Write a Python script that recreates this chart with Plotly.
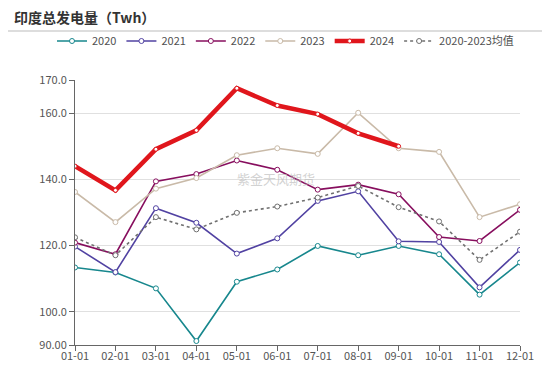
import plotly.graph_objects as go

months = ["01-01", "02-01", "03-01", "04-01", "05-01", "06-01",
          "07-01", "08-01", "09-01", "10-01", "11-01", "12-01"]

y2020 = [113.4, 111.9, 107.1, 91.2, 109.1, 112.8, 119.9, 117.1, 119.9, 117.4, 105.2, 114.9]
y2021 = [119.7, 112.0, 131.3, 126.9, 117.6, 122.2, 133.5, 136.4, 121.3, 121.1, 107.4, 118.7]
y2022 = [120.9, 117.4, 139.4, 141.6, 145.7, 142.9, 136.9, 138.4, 135.5, 122.6, 121.4, 130.8]
y2023 = [136.2, 127.1, 137.2, 140.4, 147.3, 149.4, 147.7, 160.1, 149.4, 148.3, 128.6, 132.5]
y2024 = [144.0, 136.7, 149.1, 154.8, 167.5, 162.3, 159.7, 153.9, 150.0]
yavg = [122.5, 117.1, 128.6, 124.9, 129.9, 131.8, 134.5, 138.0, 131.6, 127.3, 115.7, 124.2]

ytickvals = [90, 100, 120, 140, 160, 170]
yticktext = ["90.00", "100.0", "120.0", "140.0", "160.0", "170.0"]

series = [
    ("2020", y2020, "#17878D", 1.6, "solid"),
    ("2021", y2021, "#5142A2", 1.6, "solid"),
    ("2022", y2022, "#870E5E", 1.6, "solid"),
    ("2023", y2023, "#C9BAA8", 1.6, "solid"),
    ("2024", y2024, "#E0161C", 4.5, "solid"),
    ("2020-2023均值", yavg, "#707070", 1.6, "dot"),
]

FONT = "Noto Sans CJK SC"

# page body adds an 8px offset; figure is sized to fill the remaining window
W, H = 542, 357
L, R, T, B = 67, 30, 72, 20
PW, PH = W - L - R, H - T - B


def px(x):  # screen x -> paper
    return (x - 8 - L) / PW


def py(y):  # screen y -> paper
    return (H - B - (y - 8)) / PH


fig = go.Figure()
for name, vals, color, width, dash in series:
    fig.add_trace(go.Scatter(
        x=months[:len(vals)], y=vals, name=name, mode="lines+markers",
        line=dict(color=color, width=width, dash=dash),
        marker=dict(symbol="circle", size=5 if width < 3 else 4, color="white",
                    line=dict(color=color, width=1)),
    ))

fig.update_layout(
    width=W, height=H,
    margin=dict(l=L, r=R, t=T, b=B, autoexpand=False),
    paper_bgcolor="white", plot_bgcolor="white",
    font=dict(family=FONT, color="#555555", size=11),
    showlegend=True,
    legend=dict(orientation="h", x=px(52), xanchor="left", y=py(41), yanchor="middle",
                font=dict(size=11, color="#505050", family=FONT),
                itemwidth=30, bgcolor="rgba(0,0,0,0)", tracegroupgap=0),
    xaxis=dict(type="category", categoryorder="array", categoryarray=months,
               range=[0, 11], showgrid=False, showline=True, linecolor="#666666",
               linewidth=1, ticks="outside", ticklen=5, tickcolor="#666666",
               ticklabelstandoff=-4,
               tickfont=dict(size=11, color="#555555"), zeroline=False),
    yaxis=dict(range=[90, 170], tickvals=ytickvals, ticktext=yticktext,
               showgrid=True, gridcolor="#E0E0E0", gridwidth=1,
               showline=True, linecolor="#666666", linewidth=1,
               ticks="outside", ticklen=5, tickcolor="#666666",
               tickfont=dict(size=11, color="#555555"), zeroline=False),
    annotations=[
        dict(text="<b>印度总发电量（Twh）</b>", xref="paper", yref="paper",
             x=px(12), y=py(17), xanchor="left", yanchor="middle", showarrow=False,
             font=dict(size=14, color="#333333", family=FONT)),
        dict(text="紫金天风期货", xref="paper", yref="paper",
             x=px(276), y=py(178), xanchor="center", yanchor="middle",
             showarrow=False, font=dict(size=13, color="rgba(190,190,190,0.7)", family=FONT)),
    ],
    shapes=[
        dict(type="line", xref="paper", yref="paper",
             x0=px(8), x1=px(542), y0=py(31), y1=py(31),
             line=dict(color="#DDDDDD", width=2)),
    ],
)

fig.write_html("out.html")
